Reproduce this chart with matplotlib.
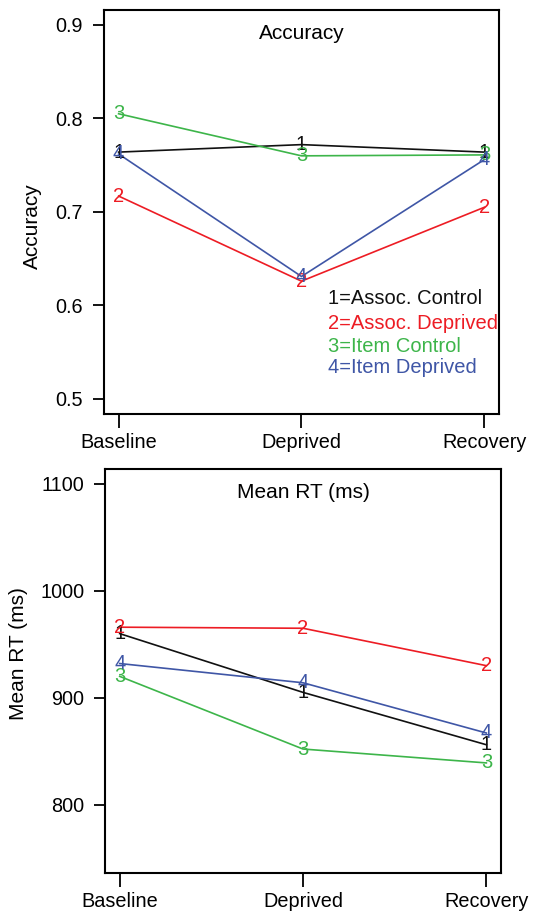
import matplotlib
matplotlib.use('Agg')
import matplotlib.pyplot as plt

plt.rcParams['font.family'] = ['Liberation Sans', 'DejaVu Sans']

sessions = ['Baseline', 'Deprived', 'Recovery']
groups = ['Assoc. Control', 'Assoc. Deprived', 'Item Control', 'Item Deprived']
group_colors = ['#111111', '#ED1C24', '#3DB54A', '#3F56A6']

accuracy = [
    [0.764, 0.772, 0.764],
    [0.717, 0.626, 0.705],
    [0.805, 0.760, 0.761],
    [0.762, 0.631, 0.756],
]
mean_rt = [
    [960, 905, 856],
    [966, 965, 930],
    [920, 852, 839],
    [932, 914, 867],
]

acc_ticks = [0.5, 0.6, 0.7, 0.8, 0.9]
rt_ticks = [800, 900, 1000, 1100]


def draw_panel(ax, values, title, ylabel, yticks, ylim, ylabel_pos, legend=False):
    x = [1, 2, 3]
    for i, row in enumerate(values):
        ax.plot(x, row, color=group_colors[i], lw=1.2, zorder=2)
        for xi, yi in zip(x, row):
            ax.text(xi, yi, str(i + 1), color=group_colors[i], fontsize=14.5,
                    ha='center', va='center', zorder=3)

    # R-style 4% padding around the data range
    lo, hi = ylim
    pad = (hi - lo) * 0.04
    ax.set_ylim(lo - pad, hi + pad)
    ax.set_xlim(1 - 0.08, 3 + 0.08)

    ax.set_xticks(x)
    ax.set_xticklabels(sessions)
    ax.set_yticks(yticks)
    ax.set_yticklabels([str(t) for t in yticks])
    ax.tick_params(axis='both', direction='out', labelsize=14.3, width=1.3)
    ax.tick_params(axis='y', length=8, pad=7)
    ax.tick_params(axis='x', length=10, pad=4)
    for s in ax.spines.values():
        s.set_linewidth(1.5)

    ax.text(0.5, 0.942, title, transform=ax.transAxes, ha='center',
            va='center', fontsize=15)
    ax.set_ylabel(ylabel, fontsize=15)
    ax.yaxis.set_label_coords(*ylabel_pos)

    if legend:
        ys = [0.285, 0.225, 0.168, 0.116]
        for i, name in enumerate(groups):
            ax.text(0.567, ys[i], f'{i + 1}={name}', transform=ax.transAxes,
                    color=group_colors[i], fontsize=14.5, ha='left', va='center')


fig = plt.figure(figsize=(5.51, 9.13), dpi=100)
ax1 = fig.add_axes([0.1887, 0.5466, 0.7169, 0.4425])
ax2 = fig.add_axes([0.1906, 0.0438, 0.7187, 0.4425])

draw_panel(ax1, accuracy, 'Accuracy', 'Accuracy', acc_ticks, (0.5, 0.9),
           (-0.157, 0.464), legend=True)
draw_panel(ax2, mean_rt, 'Mean RT (ms)', 'Mean RT (ms)', rt_ticks, (750, 1100),
           (-0.194, 0.542))

fig.savefig('out.png', dpi=100)
